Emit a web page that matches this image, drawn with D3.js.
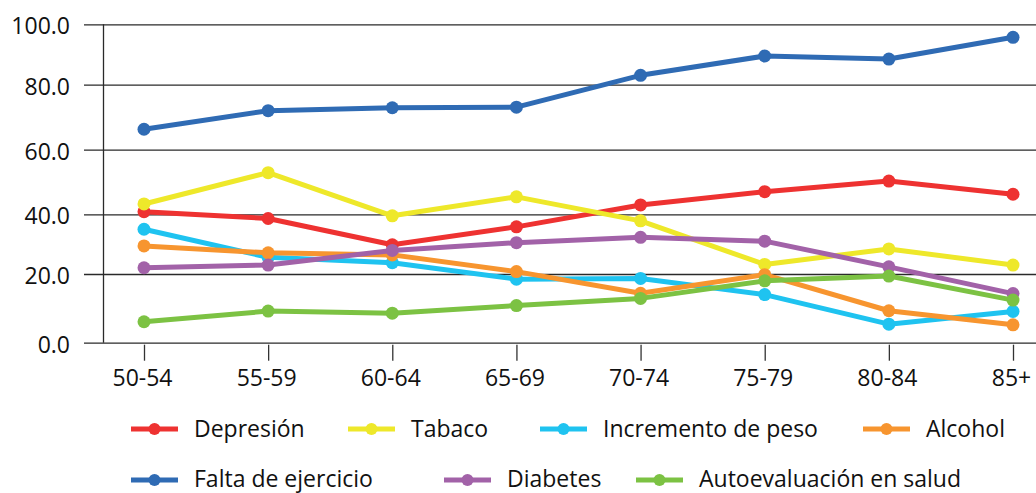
<!DOCTYPE html>
<html>
<head>
<meta charset="utf-8">
<script src="https://cdn.jsdelivr.net/npm/d3@7"></script>
<style>
  html, body { margin: 0; padding: 0; background: #fff; }
  svg { display: block; }
  text { font-family: "Open Sans", "Noto Sans", sans-serif; fill: #111; }
</style>
</head>
<body>
<svg id="chart" width="1036" height="493"></svg>
<script>
// ---- data ----
const categories = ["50-54", "55-59", "60-64", "65-69", "70-74", "75-79", "80-84", "85+"];
const yTicks = [0, 20, 40, 60, 80, 100];

const depresion      = [40.8, 38.6, 29.8, 35.8, 42.9, 47.0, 50.3, 46.2];
const tabaco         = [43.2, 52.9, 39.5, 45.4, 37.8, 23.2, 28.4, 23.0];
const incremento     = [35.0, 25.6, 23.8, 18.5, 18.7, 14.0, 5.4, 9.1];
const alcohol        = [29.4, 27.1, 26.4, 20.8, 14.4, 19.8, 9.3, 5.2];
const faltaEjercicio = [66.3, 72.0, 72.9, 73.1, 83.1, 89.5, 88.5, 95.7];
const diabetes       = [22.1, 23.0, 27.9, 30.5, 32.3, 31.0, 22.4, 14.3];
const autoevaluacion = [6.1, 9.2, 8.6, 10.8, 12.9, 18.0, 19.4, 12.4];

const seriesNames  = ["Depresión", "Tabaco", "Incremento de peso", "Alcohol",
                      "Falta de ejercicio", "Diabetes", "Autoevaluación en salud"];
const seriesValues = [depresion, tabaco, incremento, alcohol, faltaEjercicio, diabetes, autoevaluacion];
const seriesColors = ["#EE3231", "#EEE82A", "#1FC3F0", "#F7952F", "#2F6BB4", "#A262A8", "#7CC243"];

// ---- layout ----
const svg = d3.select("#chart");
const x = d3.scalePoint().domain(categories).range([144, 1013]).padding(0);
// the reference's gridlines are not evenly spaced; follow them piecewise
const y = d3.scaleLinear().domain(yTicks).range([342.7, 274, 214.3, 149.7, 84.7, 24.3]);

// gridlines + y labels
const yAxis = d3.axisLeft(y).tickValues(yTicks).tickSize(-(1036 - 84)).tickFormat(d3.format(".1f")).tickPadding(14);
const gy = svg.append("g").attr("transform", "translate(84,0)").call(yAxis);
gy.select(".domain").remove();
gy.selectAll(".tick line").attr("stroke", "#2a2a2a").attr("stroke-width", 1.3);
gy.selectAll(".tick text")
  .attr("font-size", 23).attr("fill", "#111")
  .attr("font-family", "'Open Sans', sans-serif")
  .attr("dy", "0.41em");

// vertical y-axis line
svg.append("line")
  .attr("x1", 103.5).attr("x2", 103.5)
  .attr("y1", y(100)).attr("y2", y(0))
  .attr("stroke", "#2a2a2a").attr("stroke-width", 1.3);

// x axis ticks + labels
const xAxis = d3.axisBottom(x).tickSize(16).tickPadding(10);
const gx = svg.append("g").attr("transform", `translate(0,${y(0) + 2})`).call(xAxis);
gx.select(".domain").remove();
gx.selectAll(".tick line").attr("stroke", "#333").attr("stroke-width", 1.3);
gx.selectAll(".tick text")
  .attr("font-size", 23).attr("fill", "#111")
  .attr("font-family", "'Open Sans', sans-serif")
  .attr("dx", "-2")
  .attr("dy", "0.68em");

// lines
const line = d3.line().x((d, i) => x(categories[i])).y(d => y(d));
seriesValues.forEach((vals, k) => {
  const g = svg.append("g");
  g.append("path").datum(vals)
    .attr("d", line)
    .attr("fill", "none")
    .attr("stroke", seriesColors[k])
    .attr("stroke-width", 5)
    .attr("stroke-linejoin", "round");
  g.selectAll("circle").data(vals).join("circle")
    .attr("cx", (d, i) => x(categories[i]))
    .attr("cy", d => y(d))
    .attr("r", 6.5)
    .attr("fill", seriesColors[k]);
});

// legend
const legendPos = [
  [131, 429], [348, 429], [540, 429], [863, 429],
  [131, 480], [444, 480], [636, 480]
];
seriesNames.forEach((name, k) => {
  const [lx, ly] = legendPos[k];
  const g = svg.append("g").attr("transform", `translate(${lx},${ly})`);
  g.append("line").attr("x1", 0).attr("x2", 47).attr("y1", 0).attr("y2", 0)
    .attr("stroke", seriesColors[k]).attr("stroke-width", 5);
  g.append("circle").attr("cx", 23.5).attr("cy", 0).attr("r", 6).attr("fill", seriesColors[k]);
  g.append("text").attr("x", 63).attr("y", 0).attr("dy", k < 4 ? "0.35em" : "0.3em")
    .attr("font-size", 23).text(name);
});
</script>
</body>
</html>
